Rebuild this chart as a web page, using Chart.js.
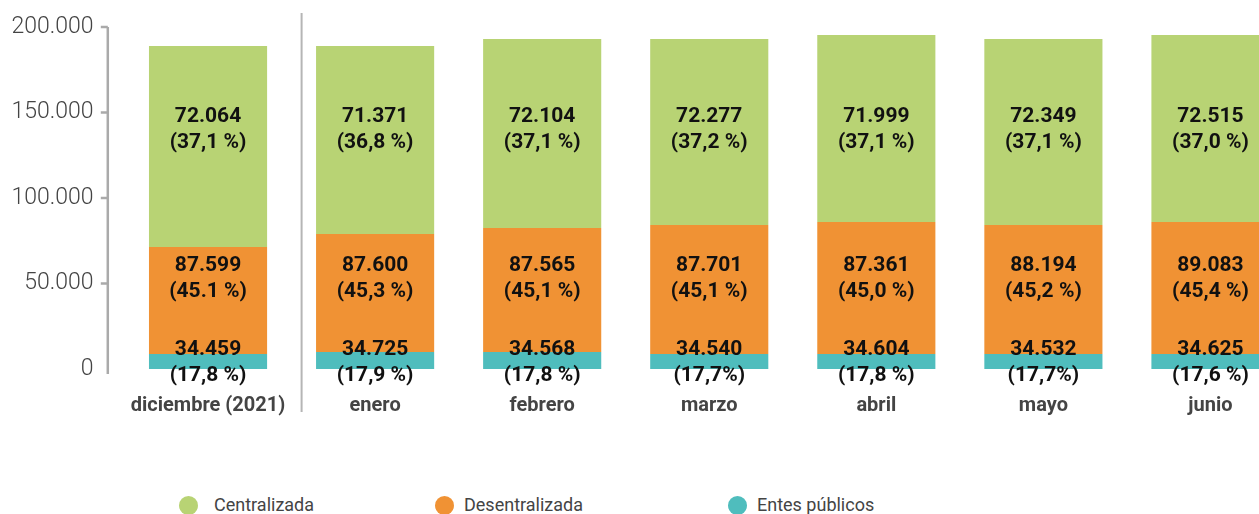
<!DOCTYPE html>
<html lang="es">
<head>
    <meta charset="UTF-8">
    <title>Dotación por tipo de organismo</title>
    <style>
        body { margin: 0; background: #fff; overflow: hidden; }
        .wrap { position: relative; width: 1259px; height: 514px; overflow: hidden; font-family: Roboto, "Noto Sans", sans-serif; }
        #grafico { position: absolute; left: 0; top: 0; }
        .dot { position: absolute; top: 496px; width: 19px; height: 19px; border-radius: 50%; }
        .txt { position: absolute; top: 493px; color: #444; font-size: 18px; line-height: 24px; }
    </style>
</head>
<body>
    <div class="wrap">
        <canvas id="grafico" width="1294" height="440"></canvas>
        <span class="dot" style="left:179px;background:#b8d374"></span><span class="txt" style="left:214px">Centralizada</span>
        <span class="dot" style="left:435px;background:#f09234"></span><span class="txt" style="left:464px">Desentralizada</span>
        <span class="dot" style="left:728px;background:#4fbdbd"></span><span class="txt" style="left:757px">Entes públicos</span>
    </div>
    <script src="https://cdn.jsdelivr.net/npm/chart.js"></script>
    <script>
        const categorias = ["diciembre (2021)", "enero", "febrero", "marzo", "abril", "mayo", "junio"];

        // altura de cada tramo tal como se dibuja en el gráfico original
        const entesAltura = [8800, 9900, 9900, 8800, 8800, 8800, 8800];
        const desentralizadaAltura = [62500, 69000, 72600, 75400, 77200, 75400, 77200];
        const centralizadaAltura = [117600, 110000, 110500, 108800, 109300, 108800, 109300];

        // cifras rotuladas
        const centralizadaValor = ["72.064", "71.371", "72.104", "72.277", "71.999", "72.349", "72.515"];
        const centralizadaPct = ["(37,1 %)", "(36,8 %)", "(37,1 %)", "(37,2 %)", "(37,1 %)", "(37,1 %)", "(37,0 %)"];
        const desentralizadaValor = ["87.599", "87.600", "87.565", "87.701", "87.361", "88.194", "89.083"];
        const desentralizadaPct = ["(45.1 %)", "(45,3 %)", "(45,1 %)", "(45,1 %)", "(45,0 %)", "(45,2 %)", "(45,4 %)"];
        const entesValor = ["34.459", "34.725", "34.568", "34.540", "34.604", "34.532", "34.625"];
        const entesPct = ["(17,8 %)", "(17,9 %)", "(17,8 %)", "(17,7%)", "(17,8 %)", "(17,7%)", "(17,6 %)"];

        const yTicks = [0, 50000, 100000, 150000, 200000];

        const fmtMiles = v => String(v).replace(/\B(?=(\d{3})+(?!\d))/g, ".");

        // ejes y separador
        const ejesPlugin = {
            id: "ejes",
            afterDraw(chart) {
                const ctx = chart.ctx;
                const x = chart.scales.x, y = chart.scales.y;
                const area = chart.chartArea;
                ctx.save();
                ctx.strokeStyle = "#aaaaaa";
                ctx.lineWidth = 2.5;
                const ax = x.getPixelForValue(-0.6);
                ctx.beginPath();
                ctx.moveTo(ax, area.top);
                ctx.lineTo(ax, area.bottom + 5);
                ctx.stroke();
                yTicks.forEach(t => {
                    if (t === 0) return;
                    const py = y.getPixelForValue(t);
                    ctx.beginPath();
                    ctx.moveTo(ax - 7, py);
                    ctx.lineTo(ax, py);
                    ctx.stroke();
                });
                ctx.lineWidth = 2;
                ctx.strokeStyle = "#b5b5b5";
                const sx = x.getPixelForValue(0.56);
                ctx.beginPath();
                ctx.moveTo(sx, area.top - 14);
                ctx.lineTo(sx, area.bottom + 43);
                ctx.stroke();
                ctx.restore();
            }
        };

        // rótulos de dos líneas dentro de cada tramo
        const rotulosPlugin = {
            id: "rotulos",
            afterDatasetsDraw(chart) {
                const ctx = chart.ctx;
                const y = chart.scales.y;
                ctx.save();
                ctx.font = "bold 21px Roboto";
                ctx.fillStyle = "#111";
                ctx.textAlign = "center";
                ctx.textBaseline = "middle";
                chart.data.datasets.forEach((ds, i) => {
                    const meta = chart.getDatasetMeta(i);
                    const cy = y.getPixelForValue(ds.anclaRotulo);
                    meta.data.forEach((bar, j) => {
                        ctx.fillText(ds.valores[j], bar.x, cy - 13);
                        ctx.fillText(ds.porcentajes[j], bar.x, cy + 13);
                    });
                });
                ctx.restore();
            }
        };

        new Chart(document.getElementById("grafico"), {
            type: "bar",
            data: {
                labels: categorias,
                datasets: [
                    { label: "Entes públicos", data: entesAltura, backgroundColor: "#4fbdbd",
                      valores: entesValor, porcentajes: entesPct, anclaRotulo: 3900 },
                    { label: "Desentralizada", data: desentralizadaAltura, backgroundColor: "#f09234",
                      valores: desentralizadaValor, porcentajes: desentralizadaPct, anclaRotulo: 53000 },
                    { label: "Centralizada", data: centralizadaAltura, backgroundColor: "#b8d374",
                      valores: centralizadaValor, porcentajes: centralizadaPct, anclaRotulo: 140000 }
                ]
            },
            options: {
                responsive: false,
                animation: false,
                devicePixelRatio: 1,
                layout: { padding: { top: 27, left: 0, right: 0, bottom: 0 } },
                datasets: { bar: { categoryPercentage: 1, barPercentage: 0.707 } },
                plugins: { legend: { display: false }, tooltip: { enabled: false } },
                scales: {
                    x: {
                        stacked: true,
                        grid: { display: false, drawTicks: false },
                        border: { display: false },
                        ticks: { color: "#444", font: { family: "Roboto", size: 20, weight: "bold" }, padding: 25, maxRotation: 0 },
                        afterFit: s => { s.height = 71; }
                    },
                    y: {
                        stacked: true,
                        min: 0,
                        max: 200000,
                        afterBuildTicks: s => { s.ticks = yTicks.map(v => ({ value: v })); },
                        grid: { display: false, drawTicks: false },
                        border: { display: false },
                        ticks: { color: "#444", font: { family: "Roboto", size: 23, weight: "300" }, padding: 31,
                                 callback: v => fmtMiles(v) },
                        afterFit: s => { s.width = 124.5; s.paddingTop = 0; s.paddingBottom = 0; }
                    }
                }
            },
            plugins: [ejesPlugin, rotulosPlugin]
        });
    </script>
</body>
</html>
